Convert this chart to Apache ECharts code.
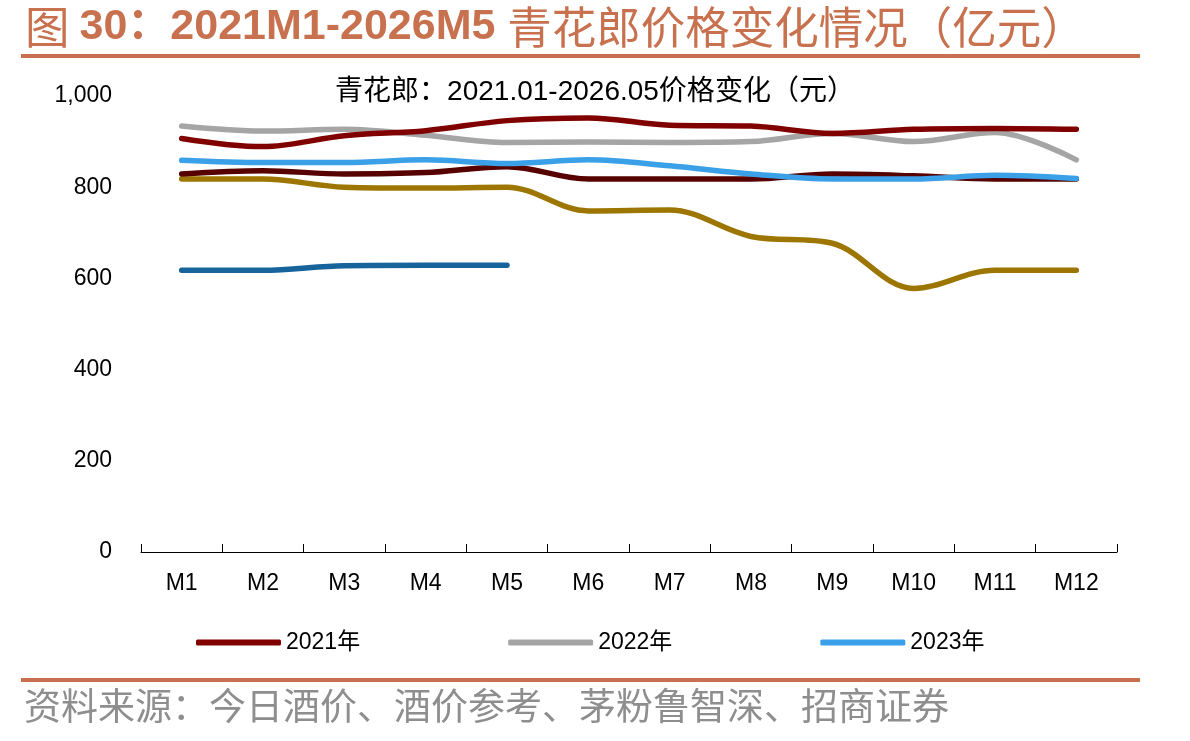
<!DOCTYPE html>
<html><head><meta charset="utf-8">
<script src="https://cdn.jsdelivr.net/npm/echarts@6/dist/echarts.min.js"></script>
<style>html,body{margin:0;padding:0;background:#fff}#c{width:1190px;height:741px}</style>
</head><body><div id="c"></div>
<script>
const months = ['M1','M2','M3','M4','M5','M6','M7','M8','M9','M10','M11','M12'];
const y2021 = [907, 889, 913, 924, 946, 952, 936, 934, 918, 927, 929, 927];
const y2022 = [934, 923, 927, 914, 898, 899, 898, 900, 918, 900, 920, 860];
const y2023 = [859, 854, 854, 860, 852, 860, 847, 829, 818, 818, 826, 819];
const y2024 = [829, 836, 829, 832, 845, 818, 818, 818, 829, 825, 818, 818];
const y2025 = [818, 818, 800, 798, 800, 748, 750, 692, 677, 578, 618, 618];
const y2026 = [618, 618, 628, 629, 629];
const yTicks = [0, 200, 400, 600, 800, 1000];

const accent = '#C8714F';
const chart = echarts.init(document.getElementById('c'), null, {renderer:'canvas'});
function mk(name, data, color, z){
  return {name, type:'line', data, smooth:0.35, symbol:'none', z,
    lineStyle:{width:5.5, color, cap:'round', join:'round'}, itemStyle:{color}};
}
chart.setOption({
  animation:false,
  title:{text:'青花郎：2021.01-2026.05价格变化（元）', left:'center', top:73,
    textStyle:{fontSize:28, fontWeight:'normal', color:'#000', fontFamily:'Liberation Sans, Noto Sans CJK SC'}},
  grid:{left:141, right:73, top:96, bottom:189},
  legend:{data:['2021年','2022年','2023年'], left:191, top:626, itemWidth:85, itemHeight:6, itemGap:148,
    icon:'roundRect', textStyle:{fontSize:23, color:'#000', fontFamily:'Liberation Sans, Noto Sans CJK SC'}},
  xAxis:{type:'category', data:months, boundaryGap:true,
    axisLine:{lineStyle:{color:'#000', width:1}},
    axisTick:{show:true, inside:true, length:8, alignWithLabel:false, interval:0, lineStyle:{color:'#000', width:1}},
    axisLabel:{fontSize:23, color:'#000', margin:20, fontFamily:'Liberation Sans'}},
  yAxis:{type:'value', min:yTicks[0], max:yTicks[yTicks.length-1], interval:200,
    splitLine:{show:false}, axisLine:{show:false}, axisTick:{show:false},
    axisLabel:{fontSize:23, color:'#000', margin:29, fontFamily:'Liberation Sans',
      formatter:v=>v.toLocaleString('en-US')}},
  series:[
    mk('2026年', y2026, '#17649C', 1),
    mk('2025年', y2025, '#9C7600', 2),
    mk('2024年', y2024, '#560000', 3),
    mk('2023年', y2023, '#3AA0E8', 4),
    mk('2022年', y2022, '#A5A5A5', 5),
    mk('2021年', y2021, '#800000', 6)
  ],
  graphic:[
    {type:'text', left:25, top:5, style:{
      text:'{c|图 }{a|30：2021M1-2026M5 }{c|青花郎价格变化情况（亿元）}',
      rich:{
        a:{fontSize:43, fontWeight:'bold', fill:accent, fontFamily:'Liberation Sans, Noto Sans CJK SC'},
        c:{fontSize:44.5, fontWeight:'normal', fill:accent, fontFamily:'Noto Sans CJK SC'}
      }}},
    {type:'rect', shape:{x:21, y:54, width:1119, height:4}, style:{fill:accent}},
    {type:'rect', shape:{x:21, y:678, width:1119, height:4}, style:{fill:accent}},
    {type:'text', left:24, top:687, style:{text:'资料来源：今日酒价、酒价参考、茅粉鲁智深、招商证券',
      fontSize:37, fill:'#8E8E8E', fontFamily:'Noto Sans CJK SC', fontWeight:'normal'}}
  ]
});
</script></body></html>
